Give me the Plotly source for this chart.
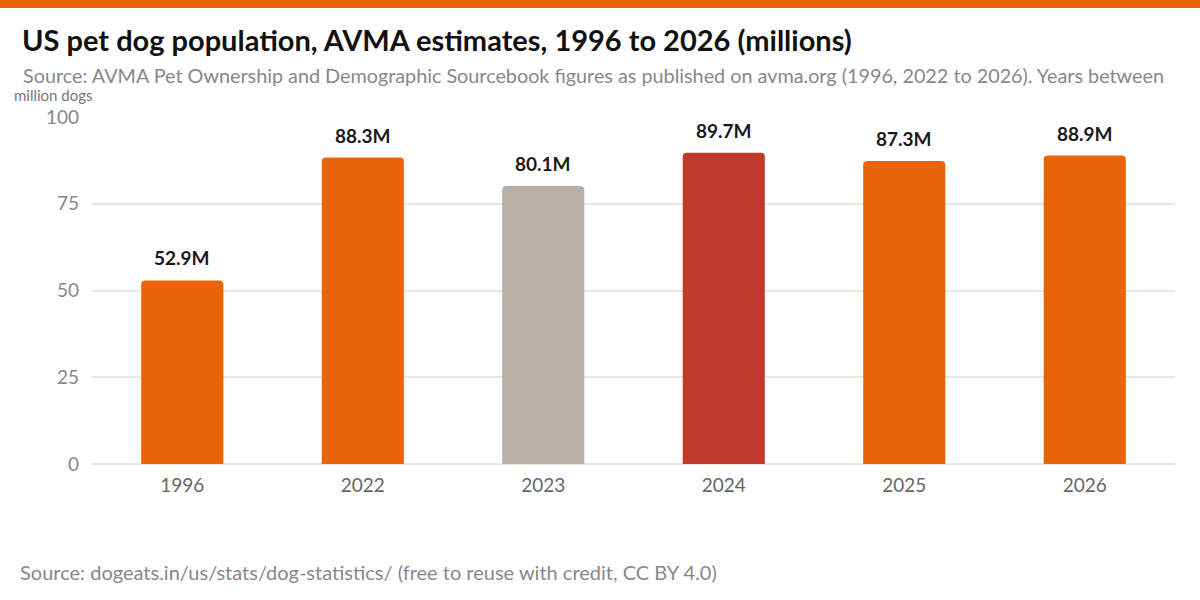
import plotly.graph_objects as go

years = ["1996", "2022", "2023", "2024", "2025", "2026"]
dogs_millions = [52.9, 88.3, 80.1, 89.7, 87.3, 88.9]
bar_colors = ["#E8650A", "#E8650A", "#B8AFA6", "#C0392B", "#E8650A", "#E8650A"]
value_labels = ["52.9M", "88.3M", "80.1M", "89.7M", "87.3M", "88.9M"]
y_ticks = [0, 25, 50, 75, 100]

FONT = "Lato"
plot_h = 600 - 117 - 136
plot_w = 1200 - 92 - 25

fig = go.Figure()
fig.add_trace(go.Bar(
    x=years, y=dogs_millions,
    marker=dict(color=bar_colors, cornerradius=4, line=dict(width=0)),
    hoverinfo="x+y",
))

for i, (v, lab) in enumerate(zip(dogs_millions, value_labels)):
    fig.add_annotation(x=i, y=v, text=f"<b>{lab}</b>", showarrow=False,
                       yanchor="bottom", yshift=9,
                       font=dict(family=FONT, size=19, color="#1a1a1a"))

fig.update_layout(
    width=1200, height=600,
    paper_bgcolor="white", plot_bgcolor="white",
    margin=dict(l=92, r=25, t=117, b=136),
    bargap=0.545,
    showlegend=False,
    font=dict(family=FONT, color="#777"),
    xaxis=dict(type="category", range=[-0.5, len(years) - 0.5],
               tickfont=dict(size=19, color="#666"),
               showgrid=False, showline=False, ticks="", ticklabelstandoff=8),
    yaxis=dict(range=[0, 100], tickvals=y_ticks, tickfont=dict(size=19, color="#888"),
               gridcolor="#ECE6DC", gridwidth=2, zeroline=True, zerolinecolor="#ECE6DC",
               zerolinewidth=2, showline=False, ticks="", ticklabelstandoff=12),
)

fig.add_shape(type="rect", xref="paper", yref="paper",
              x0=-92/plot_w, x1=1 + 25/plot_w,
              y0=1 + (117 - 8)/plot_h, y1=1 + 117/plot_h,
              fillcolor="#E8650A", line=dict(width=0), layer="above")

fig.add_annotation(xref="paper", yref="paper", x=-72/plot_w, y=1 + (117 - 40)/plot_h,
                   xanchor="left", yanchor="middle", showarrow=False,
                   text="<b>US pet dog population, AVMA estimates, 1996 to 2026 (millions)</b>",
                   font=dict(family=FONT, size=29, color="#111"))
fig.add_annotation(xref="paper", yref="paper", x=-76/plot_w, y=1 + (117 - 75)/plot_h,
                   xanchor="left", yanchor="middle", showarrow=False,
                   text=" Source: AVMA Pet Ownership and Demographic Sourcebook figures as published on avma.org (1996, 2022 to 2026). Years between",
                   font=dict(family=FONT, size=19.8, color="#888"))
fig.add_annotation(xref="paper", yref="paper", x=-80/plot_w, y=1 + (117 - 95)/plot_h,
                   xanchor="left", yanchor="middle", showarrow=False,
                   text="million dogs",
                   font=dict(family=FONT, size=15, color="#777"))
fig.add_annotation(xref="paper", yref="paper", x=-74/plot_w, y=-(572 - 464)/plot_h,
                   xanchor="left", yanchor="middle", showarrow=False,
                   text="Source: dogeats.in/us/stats/dog-statistics/ (free to reuse with credit, CC BY 4.0)",
                   font=dict(family=FONT, size=20, color="#888"))

fig.write_html("out.html")
